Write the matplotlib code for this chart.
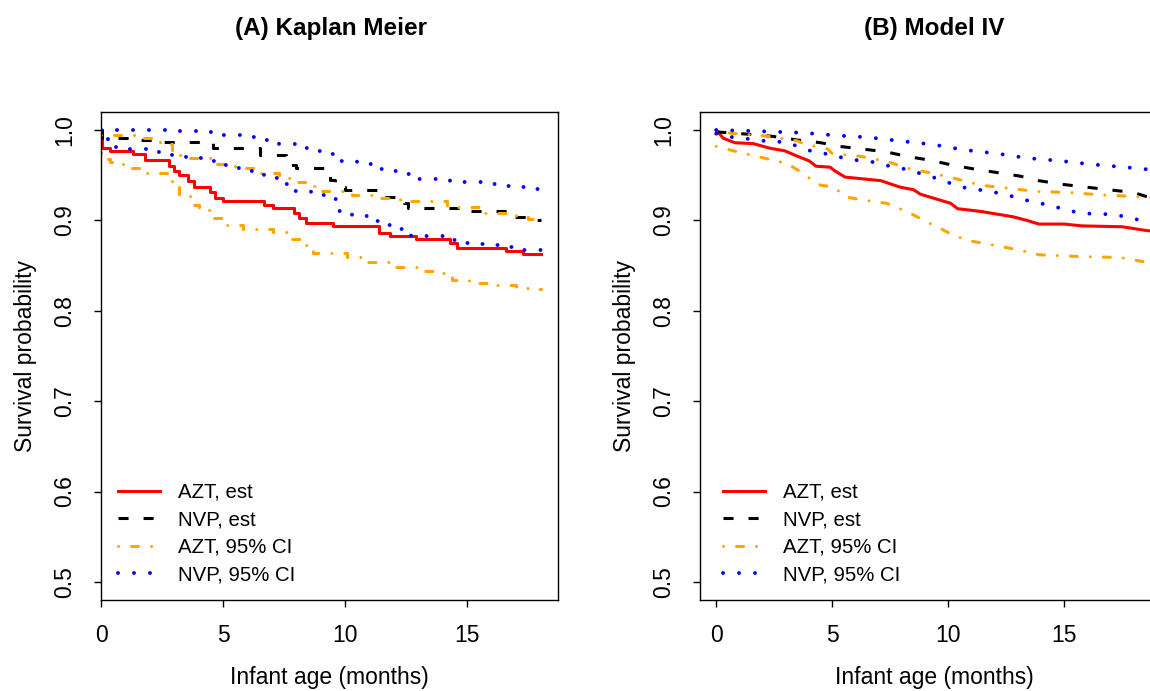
import matplotlib
matplotlib.use("Agg")
import matplotlib.pyplot as plt
from matplotlib.lines import Line2D

plt.rcParams['font.family'] = ['Liberation Sans', 'DejaVu Sans']

# ---- Panel A: Kaplan Meier step curves ----
km_azt_t = [0, 0.03, 0.37, 1.3, 1.8, 2.8, 3.0, 3.2, 3.57, 3.8, 4.47, 4.67, 5.0, 6.7, 7.05,
            7.9, 8.1, 8.4, 9.5, 11.4, 11.85, 12.9, 14.3, 14.6, 16.6, 17.3, 18.05]
km_azt_s = [1.0, 0.980, 0.977, 0.974, 0.967, 0.960, 0.955, 0.950, 0.944, 0.937, 0.932, 0.925,
            0.921, 0.917, 0.914, 0.908, 0.903, 0.897, 0.894, 0.886, 0.883, 0.880, 0.875, 0.870,
            0.866, 0.863, 0.863]

km_nvp_t = [0, 0.05, 1.5, 2.5, 4.6, 6.5, 7.6, 8.0, 9.4, 9.6, 10.0, 11.7, 12.4, 12.6, 15.0,
            16.9, 17.5, 18.05]
km_nvp_s = [1.0, 0.991, 0.989, 0.987, 0.980, 0.972, 0.961, 0.958, 0.945, 0.937, 0.934, 0.926,
            0.919, 0.914, 0.910, 0.904, 0.900, 0.900]

km_azt_hi_t = [0, 1.5, 2.4, 2.9, 3.2, 3.6, 4.5, 5.5, 6.5, 7.3, 7.9, 8.4, 9.0, 10.3, 11.1,
               12.25, 14.2, 15.7, 17.0, 17.5, 18.05]
km_azt_hi_s = [0.995, 0.991, 0.985, 0.978, 0.972, 0.969, 0.963, 0.958, 0.952, 0.947, 0.943,
               0.938, 0.933, 0.928, 0.925, 0.921, 0.915, 0.908, 0.904, 0.902, 0.902]

km_azt_lo_t = [0, 0.1, 0.37, 0.9, 1.6, 2.7, 2.9, 3.2, 3.65, 4.0, 4.6, 5.15, 5.8, 7.05, 7.75,
               8.15, 8.7, 10.1, 10.9, 11.85, 13.1, 13.8, 14.4, 15.1, 16.2, 17.0, 17.5, 18.05]
km_azt_lo_s = [0.975, 0.968, 0.965, 0.958, 0.952, 0.945, 0.939, 0.928, 0.917, 0.912, 0.903,
               0.895, 0.891, 0.887, 0.880, 0.873, 0.864, 0.860, 0.854, 0.849, 0.844, 0.842,
               0.834, 0.831, 0.829, 0.825, 0.824, 0.824]

km_nvp_hi_t = [0, 2.7, 4.0, 5.0, 6.0, 6.6, 7.3, 7.95, 8.6, 9.25, 9.6, 10.5, 11.1, 11.75, 12.4,
               13.0, 14.3, 15.6, 16.3, 16.9, 17.6, 18.05]
km_nvp_hi_s = [1.0, 0.999, 0.998, 0.995, 0.992, 0.989, 0.985, 0.980, 0.977, 0.974, 0.966,
               0.962, 0.957, 0.955, 0.951, 0.946, 0.942, 0.940, 0.938, 0.937, 0.935, 0.935]

km_nvp_lo_t = [0, 0.03, 0.3, 1.0, 2.1, 2.9, 3.5, 4.2, 4.8, 5.4, 6.1, 6.7, 7.3, 7.9, 8.6, 9.2,
               9.7, 10.3, 10.9, 11.6, 12.2, 12.7, 14.0, 14.6, 15.3, 16.0, 16.6, 17.3, 18.05]
km_nvp_lo_s = [1.0, 0.990, 0.981, 0.979, 0.976, 0.972, 0.969, 0.966, 0.961, 0.958, 0.955,
               0.947, 0.940, 0.933, 0.928, 0.924, 0.911, 0.905, 0.899, 0.895, 0.890, 0.883,
               0.878, 0.875, 0.874, 0.873, 0.871, 0.867, 0.867]

# ---- Panel B: Model IV curves ----
m_azt_t = [0, 0.3, 0.8, 1.6, 2.3, 2.96, 3.5, 4.0, 4.3, 4.9, 5.1, 5.55, 7.1, 7.9, 8.5, 8.8,
           10.1, 10.4, 11.4, 12.8, 13.4, 13.9, 15.0, 15.75, 17.5, 18.5, 19.5]
m_azt_s = [1.0, 0.991, 0.986, 0.985, 0.980, 0.977, 0.971, 0.966, 0.960, 0.959, 0.955, 0.948,
           0.944, 0.937, 0.934, 0.929, 0.919, 0.913, 0.910, 0.904, 0.900, 0.896, 0.896, 0.894,
           0.893, 0.889, 0.886]

m_nvp_t = [0, 1.6, 2.45, 3.5, 4.5, 5.3, 6.3, 7.3, 8.2, 9.35, 10.2, 11.1, 12.1, 13.1, 13.9,
           14.9, 15.9, 16.9, 17.97, 18.6, 19.5]
m_nvp_s = [0.998, 0.995, 0.993, 0.989, 0.986, 0.982, 0.979, 0.976, 0.971, 0.966, 0.961, 0.957,
           0.953, 0.949, 0.944, 0.940, 0.937, 0.934, 0.931, 0.926, 0.923]

m_azt_hi_t = [0, 0.9, 2.3, 3.5, 3.75, 4.8, 5.0, 6.2, 7.4, 8.2, 9.35, 10.2, 11.4, 12.8, 13.8,
              15.2, 16.7, 18.5, 19.5]
m_azt_hi_s = [0.998, 0.996, 0.993, 0.988, 0.985, 0.979, 0.974, 0.971, 0.965, 0.958, 0.952,
              0.947, 0.939, 0.935, 0.932, 0.931, 0.928, 0.926, 0.924]

m_azt_lo_t = [0, 0.9, 1.9, 3.05, 3.75, 4.2, 4.5, 5.05, 5.6, 6.2, 7.35, 8.2, 9.35, 10.2, 10.8,
              11.9, 13.1, 13.9, 15.7, 17.4, 18.5, 19.5]
m_azt_lo_s = [0.982, 0.976, 0.970, 0.963, 0.952, 0.943, 0.939, 0.937, 0.926, 0.923, 0.919,
              0.910, 0.895, 0.884, 0.878, 0.873, 0.867, 0.862, 0.860, 0.859, 0.854, 0.851]

m_nvp_hi_t = [0, 1.6, 3.75, 5.2, 6.55, 7.9, 9.35, 10.7, 12.1, 13.4, 14.8, 16.2, 17.6, 18.35, 19.5]
m_nvp_hi_s = [1.0, 0.999, 0.997, 0.994, 0.992, 0.988, 0.984, 0.978, 0.974, 0.969, 0.966, 0.962,
              0.959, 0.957, 0.955]

m_nvp_lo_t = [0, 0.9, 1.6, 2.3, 3.0, 3.6, 4.3, 5.0, 5.6, 6.3, 6.95, 7.6, 8.35, 9.0, 9.6, 10.3,
              10.9, 11.65, 12.4, 13.0, 13.7, 14.4, 15.0, 15.75, 16.5, 17.1, 17.8, 18.5, 19.5]
m_nvp_lo_s = [0.996, 0.991, 0.990, 0.987, 0.987, 0.981, 0.975, 0.973, 0.968, 0.966, 0.964,
              0.959, 0.956, 0.950, 0.946, 0.939, 0.935, 0.933, 0.929, 0.925, 0.920, 0.917,
              0.912, 0.908, 0.907, 0.907, 0.903, 0.899, 0.896]

legend_labels = ["AZT, est", "NVP, est", "AZT, 95% CI", "NVP, 95% CI"]
x_ticks = [0, 5, 10, 15]
y_ticks = [0.5, 0.6, 0.7, 0.8, 0.9, 1.0]

# line styles that look like R's lty 1-4
STYLES = [
    dict(color="red", linestyle="-", linewidth=2.2),
    dict(color="black", linestyle=(0, (3.3, 4.9)), dash_capstyle="butt", linewidth=2.2),
    dict(color="orange", linestyle=(0, (0.01, 4.25, 2.3, 4.25)), dash_capstyle="round",
         linewidth=2.2),
    dict(color="blue", linestyle=(0, (0.01, 4.1)), dash_capstyle="round", linewidth=2.8),
]


def style_axes(ax, xlim):
    ax.set_xlim(*xlim)
    ax.set_ylim(0.48, 1.02)
    ax.set_xticks(x_ticks)
    ax.set_yticks(y_ticks)
    ax.set_yticklabels(["%.1f" % v for v in y_ticks], rotation=90, va="center")
    ax.tick_params(direction="out", length=5, width=1, labelsize=16.5, pad=12)
    ax.tick_params(axis="y", pad=13)
    for sp in ax.spines.values():
        sp.set_linewidth(1.0)
    ax.set_xlabel("Infant age (months)", fontsize=16.5)
    ax.set_ylabel("Survival probability", fontsize=16.5)


def add_legend(ax, x0):
    handles = [Line2D([], [], **s) for s in STYLES]
    ax.legend(handles, legend_labels, loc="upper left", frameon=False, fontsize=14.7,
              bbox_to_anchor=(x0, 1 - 483 / 691), bbox_transform=ax.figure.transFigure,
              borderpad=0, borderaxespad=0, handlelength=2.05, handletextpad=0.9,
              labelspacing=0.41)


fig = plt.figure(figsize=(11.5, 6.91), dpi=100)
ax1 = fig.add_axes([101 / 1150, 91 / 691, 457 / 1150, 488 / 691])
ax2 = fig.add_axes([700 / 1150, 91 / 691, 468 / 1150, 488 / 691])

series_style = [0, 1, 2, 2, 3, 3]

# Panel A: step functions
km_series = [(km_azt_t, km_azt_s), (km_nvp_t, km_nvp_s), (km_azt_hi_t, km_azt_hi_s),
             (km_azt_lo_t, km_azt_lo_s), (km_nvp_hi_t, km_nvp_hi_s), (km_nvp_lo_t, km_nvp_lo_s)]
for (t, s), k in zip(km_series, series_style):
    ax1.step(t, s, where="post", **STYLES[k])
style_axes(ax1, (0, 18.73))
add_legend(ax1, 118 / 1150)

# Panel B: model curves
m_series = [(m_azt_t, m_azt_s), (m_nvp_t, m_nvp_s), (m_azt_hi_t, m_azt_hi_s),
            (m_azt_lo_t, m_azt_lo_s), (m_nvp_hi_t, m_nvp_hi_s), (m_nvp_lo_t, m_nvp_lo_s)]
for (t, s), k in zip(m_series, series_style):
    ax2.plot(t, s, **STYLES[k])
style_axes(ax2, (-0.70, 19.47))
add_legend(ax2, 723 / 1150)

ax1.xaxis.set_label_coords(0.5, -0.135)
ax1.yaxis.set_label_coords(-0.14, 0.5)
ax2.xaxis.set_label_coords((934 - 700) / 468, -0.135)
ax2.yaxis.set_label_coords(-64 / 468, 0.5)

fig.text(331 / 1150, 1 - 28 / 691, "(A) Kaplan Meier", ha="center", va="center",
         fontsize=17.5, fontweight="bold")
fig.text(934 / 1150, 1 - 28 / 691, "(B) Model IV", ha="center", va="center",
         fontsize=17.5, fontweight="bold")

fig.savefig("out.png", dpi=100)
